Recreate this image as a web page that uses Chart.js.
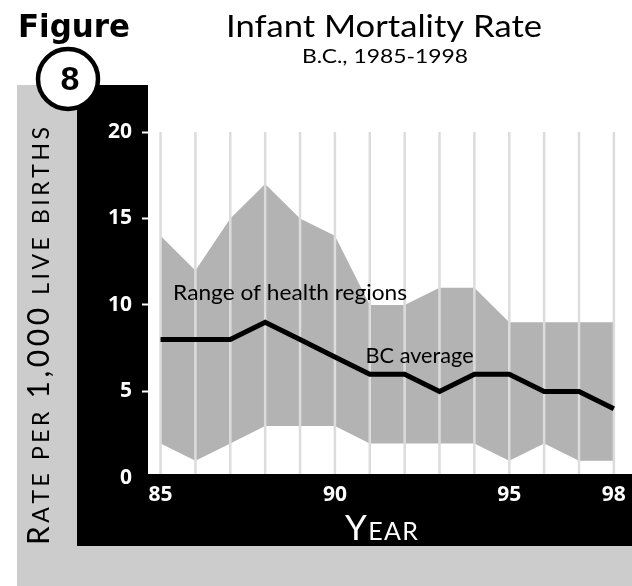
<!DOCTYPE html>
<html>
<head>
<meta charset="utf-8">
<script src="https://cdn.jsdelivr.net/npm/chart.js@4.4.1/dist/chart.umd.min.js"></script>
<style>
  html, body { margin: 0; padding: 0; background: #fff; }
  canvas { display: block; }
</style>
</head>
<body>
<canvas id="myChart" width="632" height="586"></canvas>
<script>
// infant mortality, B.C. 1985-1998 (rate per 1,000 live births)
const years = [85, 86, 87, 88, 89, 90, 91, 92, 93, 94, 95, 96, 97, 98];
const rangeHigh = [14, 12, 15, 17, 15, 14, 10, 10, 11, 11, 9, 9, 9, 9];
const rangeLow = [2, 1, 2, 3, 3, 3, 2, 2, 2, 2, 1, 2, 1, 1];
const bcAverage = [8, 8, 8, 9, 8, 7, 6, 6, 5, 6, 6, 5, 5, 4];
const yearLabels = [85, 90, 95, 98];
const rateTicks = [0, 5, 10, 15, 20];

const toPoints = vals => vals.map((v, i) => ({ x: years[i], y: v }));

const panelGray = '#cccccc';
const bandGray = '#b3b3b3';
const gridGray = '#dcdcdc';

// labels placed in data units
const notes = [
  { text: 'Range of health regions', year: 85.36, rate: 10.3, width: 234 },
  { text: 'BC average', year: 90.88, rate: 6.65, width: 108 }
];

// draw text squeezed/stretched to a given width
function drawFitted(ctx, text, x, y, width, align) {
  const k = width / ctx.measureText(text).width;
  ctx.save();
  ctx.translate(x, y);
  ctx.scale(k, 1);
  ctx.textAlign = align;
  ctx.textBaseline = 'alphabetic';
  ctx.fillText(text, 0, 0);
  ctx.restore();
}

// small caps, letter spaced to fill totalWidth, centred on cx
function smallCaps(ctx, runs, cx, baseY, totalWidth, family) {
  const chars = [];
  runs.forEach(([t, size]) => {
    for (const ch of t) {
      ctx.font = size + 'px ' + family;
      chars.push([ch, size, ctx.measureText(ch).width]);
    }
  });
  const natural = chars.reduce((a, c) => a + c[2], 0);
  const gap = (totalWidth - natural) / (chars.length - 1);
  let x = cx - totalWidth / 2;
  ctx.textAlign = 'left';
  ctx.textBaseline = 'alphabetic';
  chars.forEach(c => {
    ctx.font = c[1] + 'px ' + family;
    ctx.fillText(c[0], x, baseY);
    x += c[2] + gap;
  });
}

const backdrop = {
  id: 'backdrop',
  beforeDraw(chart) {
    const ctx = chart.ctx;
    ctx.save();
    ctx.fillStyle = '#fff';
    ctx.fillRect(0, 0, 632, 586);
    ctx.fillStyle = panelGray;
    ctx.fillRect(17, 85, 615, 501);
    ctx.fillStyle = '#000';
    ctx.fillRect(77, 85, 71, 461);
    ctx.fillRect(77, 474, 555, 72);
    ctx.fillStyle = '#fff';
    ctx.fillRect(148, 85, 484, 389);
    ctx.restore();
  },
  // year grid goes over the band but under the average line
  beforeDatasetDraw(chart, args) {
    if (args.index !== 2) return;
    const ctx = chart.ctx;
    const x = chart.scales.x;
    const y = chart.scales.y;
    ctx.save();
    ctx.strokeStyle = gridGray;
    ctx.lineWidth = 2.5;
    x.ticks.forEach(t => {
      const px = x.getPixelForValue(t.value);
      ctx.beginPath();
      ctx.moveTo(px, y.getPixelForValue(rateTicks[rateTicks.length - 1]));
      ctx.lineTo(px, chart.chartArea.bottom);
      ctx.stroke();
    });
    ctx.restore();
  },
  afterDatasetsDraw(chart) {
    const ctx = chart.ctx;
    const x = chart.scales.x;
    const y = chart.scales.y;
    ctx.save();
    ctx.fillStyle = '#000';
    ctx.font = '21px Lato';
    notes.forEach(n => {
      drawFitted(ctx, n.text, x.getPixelForValue(n.year), y.getPixelForValue(n.rate), n.width, 'left');
    });
    ctx.restore();
  },
  afterDraw(chart) {
    const ctx = chart.ctx;
    ctx.save();
    ctx.fillStyle = '#000';
    ctx.font = '30px Lato';
    drawFitted(ctx, 'Infant Mortality Rate', 384, 37, 316, 'center');
    ctx.font = '19px Lato';
    drawFitted(ctx, 'B.C., 1985-1998', 385, 63, 166, 'center');

    ctx.font = 'bold 32px "DejaVu Sans"';
    drawFitted(ctx, 'Figure', 18, 37, 112, 'left');

    ctx.beginPath();
    ctx.arc(68, 79, 30, 0, Math.PI * 2);
    ctx.fillStyle = '#fff';
    ctx.fill();
    ctx.lineWidth = 4.5;
    ctx.strokeStyle = '#000';
    ctx.stroke();
    ctx.fillStyle = '#000';
    ctx.font = 'bold 34px "Liberation Sans"';
    ctx.textAlign = 'center';
    ctx.textBaseline = 'alphabetic';
    ctx.fillText('8', 70, 90);

    // axis titles
    ctx.fillStyle = '#000';
    ctx.save();
    ctx.translate(49, 336);
    ctx.rotate(-Math.PI / 2);
    smallCaps(ctx, [['R', 30], ['ATE PER ', 23], ['1,000', 30], [' LIVE BIRTHS', 23]], 0, 0, 418, 'Lato');
    ctx.restore();

    ctx.fillStyle = '#fff';
    smallCaps(ctx, [['Y', 35], ['EAR', 25]], 381.5, 540, 73, 'Lato');
    ctx.restore();
  }
};

const tickFont = { family: '"Open Sans"', size: 21, weight: 'bold' };

const data = {
  datasets: [
    {
      label: 'Range high',
      data: toPoints(rangeHigh),
      borderColor: 'transparent',
      borderWidth: 0,
      backgroundColor: bandGray,
      fill: '+1',
      pointRadius: 0,
      tension: 0,
      order: 2
    },
    {
      label: 'Range low',
      data: toPoints(rangeLow),
      borderColor: 'transparent',
      borderWidth: 0,
      fill: false,
      pointRadius: 0,
      tension: 0,
      order: 1
    },
    {
      label: 'BC average',
      data: toPoints(bcAverage),
      borderColor: '#000',
      borderWidth: 5,
      fill: false,
      pointRadius: 0,
      tension: 0,
      clip: false,
      order: 0
    }
  ]
};

const config = {
  type: 'line',
  data: data,
  plugins: [backdrop],
  options: {
    responsive: false,
    animation: false,
    devicePixelRatio: 1,
    layout: { padding: { top: 132, left: 0, right: 0, bottom: 40 } },
    plugins: {
      legend: { display: false },
      tooltip: { enabled: false }
    },
    scales: {
      x: {
        type: 'linear',
        min: 84.64,
        max: 98.52,
        afterBuildTicks: s => { s.ticks = years.map(v => ({ value: v })); },
        afterFit: s => { s.height = 72; },
        grid: { display: false },
        border: { display: false },
        ticks: {
          autoSkip: false,
          maxRotation: 0,
          padding: 0,
          color: '#fff',
          font: tickFont,
          callback: v => yearLabels.includes(v) ? String(v) : ''
        }
      },
      y: {
        min: 0.23,
        max: 20,
        afterBuildTicks: s => { s.ticks = rateTicks.map(v => ({ value: v })); },
        afterFit: s => { s.width = 148; },
        grid: {
          drawOnChartArea: false,
          drawTicks: true,
          tickLength: 6,
          tickWidth: 2,
          tickColor: c => c.tick && c.tick.value === 0 ? 'rgba(0,0,0,0)' : '#fff'
        },
        border: { display: false },
        ticks: {
          padding: 10,
          color: '#fff',
          font: tickFont
        }
      }
    }
  }
};

const myChart = new Chart(document.getElementById('myChart'), config);
</script>
</body>
</html>
